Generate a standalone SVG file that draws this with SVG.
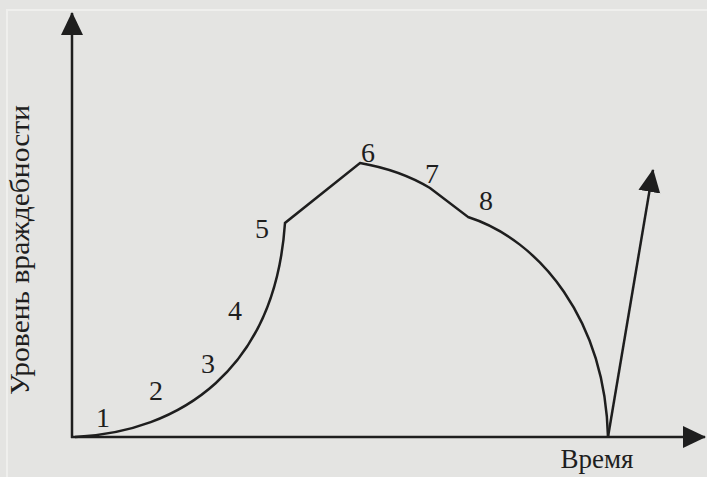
<svg xmlns="http://www.w3.org/2000/svg" width="707" height="477" viewBox="0 0 707 477">
<style>
.ax{stroke:#1e1e1e;stroke-width:2.5;fill:none}
.cv{stroke:#1e1e1e;stroke-width:2.5;fill:none;stroke-linejoin:miter}
.num{font-family:'Liberation Serif','DejaVu Serif','Times New Roman',serif;font-size:28px;fill:#1e1e1e;text-anchor:middle}
.lbl{font-family:'Liberation Serif','DejaVu Serif','Times New Roman',serif;font-size:27px;fill:#1e1e1e;text-anchor:middle}
</style>
<defs>
<marker id="ah" viewBox="0 0 24 24" refX="22" refY="12" markerWidth="24" markerHeight="24" markerUnits="userSpaceOnUse" orient="auto">
<path d="M0,1 L23,12 L0,23 Z" fill="#1e1e1e"/>
</marker>
</defs>
<rect width="707" height="477" fill="#e4e4e2"/>
<path d="M7,477 L7,10 L707,10" fill="none" stroke="#efefed" stroke-width="2"/>
<g id="axes">
<line id="y-axis" class="ax" x1="72" y1="438" x2="72" y2="13" marker-end="url(#ah)"/>
<line id="x-axis" class="ax" x1="71" y1="437" x2="705" y2="437" marker-end="url(#ah)"/>
</g>
<g id="connectors">
<path class="cv" d="M75,437 C180,432 275,370 285,223 L360,163 Q400,170 430,188 L468,217 C540,240 605,320 608,437"/>
<line class="ax" x1="608" y1="437" x2="653" y2="170" marker-end="url(#ah)"/>
</g>
<g id="labels">
<text class="num" x="103" y="427">1</text>
<text class="num" x="156" y="400">2</text>
<text class="num" x="208" y="373">3</text>
<text class="num" x="235" y="320">4</text>
<text class="num" x="262" y="238">5</text>
<text class="num" x="368" y="162">6</text>
<text class="num" x="432" y="183">7</text>
<text class="num" x="486" y="210">8</text>
<text class="lbl" x="597" y="468" textLength="73" lengthAdjust="spacingAndGlyphs">Время</text>
<text class="lbl" transform="translate(29,250) rotate(-90)" textLength="290" lengthAdjust="spacingAndGlyphs">Уровень враждебности</text>
</g>
</svg>
